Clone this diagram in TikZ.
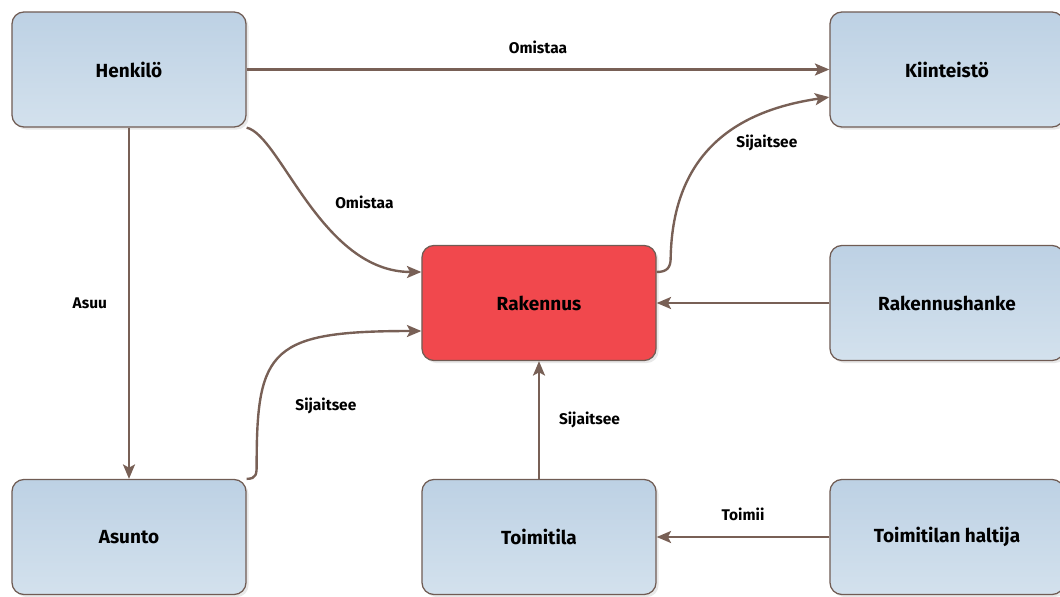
\documentclass[tikz,border=0pt]{standalone}
\usepackage{fontspec}
\setmainfont{Fira Sans}
\usepackage{xcolor}
\usepackage{tikz}
\usetikzlibrary{calc, arrows.meta, shadows, positioning}

\definecolor{reunus}{RGB}{112,92,84}
\definecolor{nuoli}{RGB}{120,96,86}
\definecolor{sininen1}{RGB}{189,209,228}
\definecolor{sininen2}{RGB}{211,225,237}
\definecolor{punainen}{RGB}{241,72,77}

\tikzset{
  laatikko/.style={draw=reunus, line width=0.9pt, rounded corners=8.5pt,
    minimum width=5.85cm, minimum height=2.875cm,
    font=\bfseries\fontsize{13.5}{16}\selectfont,
    drop shadow={shadow xshift=1.8pt, shadow yshift=-1.8pt, fill=black!18}},
  tavallinen/.style={laatikko, top color=sininen1, bottom color=sininen2},
  keskus/.style={laatikko, fill=punainen},
  suhde/.style={->, draw=nuoli, line width=1.7pt},
  nimio/.style={font=\bfseries\fontsize{11}{13}\selectfont, inner sep=2pt},
}

\begin{document}
\begin{tikzpicture}[>={Stealth[length=0.36cm, width=0.3cm, inset=0.08cm]}, x=0.025cm, y=-0.025cm]
    \useasboundingbox (0,0) rectangle (1060,597);

    % Laatikot
    \node[tavallinen] (henkilo)     at (129,69.5) {Henkilö};
    \node[tavallinen] (kiinteisto)  at (947,69.5) {Kiinteistö};
    \node[keskus]     (rakennus)    at (539,303)  {Rakennus};
    \node[tavallinen] (hanke)       at (947,303)  {Rakennushanke};
    \node[tavallinen] (asunto)      at (129,537)  {Asunto};
    \node[tavallinen] (toimitila)   at (539,537)  {Toimitila};
    \node[tavallinen] (haltija)     at (947,537)  {Toimitilan haltija};

    % Suorat yhteydet
    \draw[suhde] (henkilo.east) -- (kiinteisto.west)
        node[nimio, midway, above=0.3cm] {Omistaa};
    \draw[suhde] (henkilo.south) -- (asunto.north)
        node[nimio, midway, left=0.45cm] {Asuu};
    \draw[suhde] (toimitila.north) -- (rakennus.south)
        node[nimio, midway, right=0.4cm] {Sijaitsee};
    \draw[suhde] (hanke.west) -- (rakennus.east);
    \draw[suhde] (haltija.west) -- (toimitila.east)
        node[nimio, midway, above=0.3cm] {Toimii};

    % Kaarevat yhteydet
    \draw[suhde] (henkilo.south east) .. controls +(34,8) and +(-100,0) ..
        ([yshift=0.775cm]rakennus.west)
        node[nimio, pos=0.5, right=0.55cm] {Omistaa};
    \draw[suhde] (asunto.north east) .. controls +(10,0) and +(0,10) .. ++(10,-15)
        .. controls +(0,-115) and +(-150,0) .. ([yshift=-0.7cm]rakennus.west)
        node[nimio, pos=0.2, right=0.8cm] {Sijaitsee};
    \draw[suhde] ([yshift=0.775cm]rakennus.east) .. controls +(10,0) and +(0,10) .. ++(14,-14)
        .. controls +(2,-108) and +(-90,13) .. ([yshift=-0.69cm]kiinteisto.west)
        node[nimio, pos=0.75, below=0.45cm] {Sijaitsee};
\end{tikzpicture}
\end{document}
